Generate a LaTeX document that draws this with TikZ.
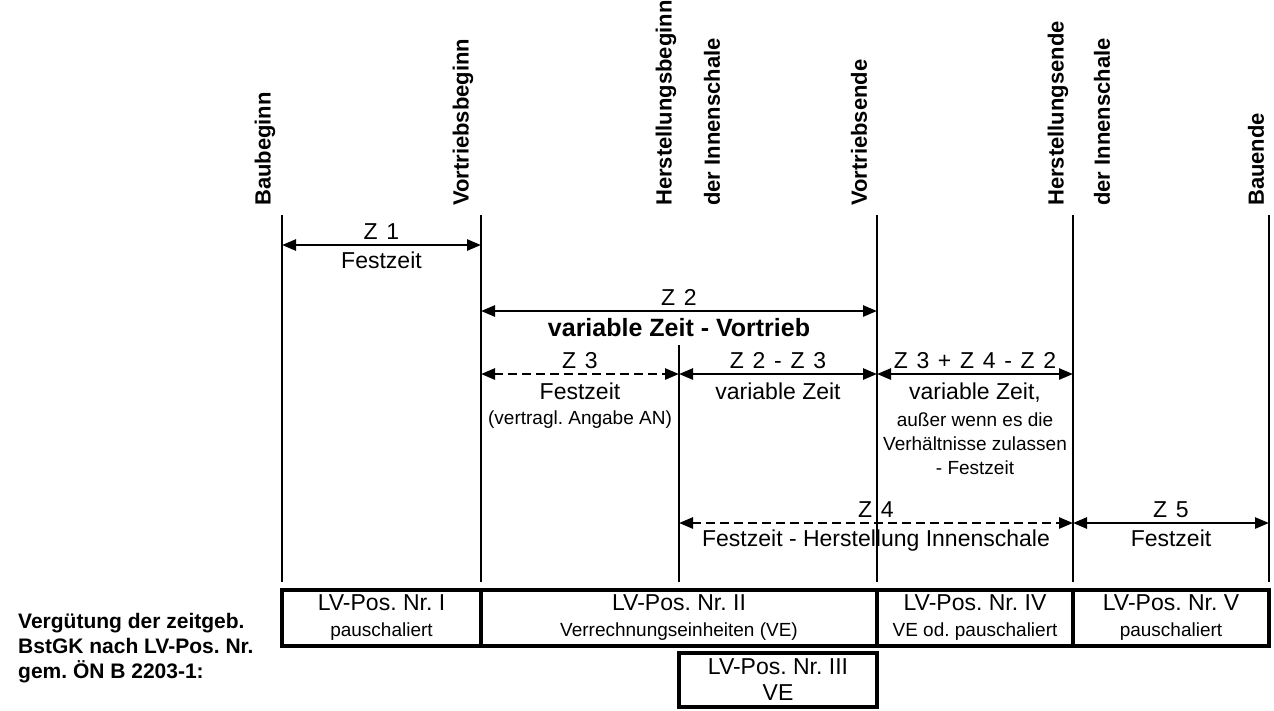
\documentclass[tikz,border=0pt]{standalone}
\usepackage{fontspec}
\setmainfont{Liberation Sans}
\frenchspacing
\usetikzlibrary{positioning,arrows.meta}
\newcommand\smalltxt{\fontsize{19}{23}\selectfont}

\begin{document}
\begin{tikzpicture}[x=1pt,y=-1pt,
  mline/.style={line width=2pt},
  zarrow/.style={{Triangle[length=14pt,width=11pt]}-{Triangle[length=14pt,width=11pt]},line width=2.6pt},
  zdash/.style={zarrow,dash pattern=on 9pt off 5pt},
  mlabel/.style={rotate=90,anchor=west,inner sep=0pt,font=\fontsize{22}{24}\selectfont\bfseries},
  ztop/.style={above=4pt,inner sep=0pt,font=\fontsize{23}{24}\selectfont\addfontfeatures{LetterSpace=10}},
  zbot/.style={below=6pt,inner sep=0pt,align=center,font=\fontsize{23}{24}\selectfont},
  posbox/.style={draw,line width=4pt,inner sep=0pt,align=center,font=\fontsize{23}{26}\selectfont}]
\useasboundingbox (0,0) rectangle (1274,710);

% milestones
\coordinate (bb) at (282,215);
\coordinate (vb) at (481,215);
\coordinate (hb) at (679,345);
\coordinate (ve) at (877,215);
\coordinate (he) at (1073,215);
\coordinate (be) at (1269,215);
\coordinate (r1) at (0,245);
\coordinate (r2) at (0,311);
\coordinate (r3) at (0,374);
\coordinate (r4) at (0,523);
\coordinate (rb) at (0,582);

\foreach \m in {bb,vb,hb,ve,he,be}
  \draw[mline] (\m) -- (\m |- rb);

\node[mlabel] (lbb) at (265,206) {Baubeginn};
\node[mlabel] (lvb) at (463,206) {Vortriebsbeginn};
\node[mlabel] (lhb) at (666,206) {Herstellungsbeginn};
\node[mlabel] (lhb2) at (712,206) {der Innenschale};
\node[mlabel] (lve) at (859,206) {Vortriebsende};
\node[mlabel] (lhe) at (1058,206) {Herstellungsende};
\node[mlabel] (lhe2) at (1102,206) {der Innenschale};
\node[mlabel] (lbe) at (1256,206) {Bauende};

% Zeitabschnitte
\draw[zarrow] (bb |- r1) -- node[ztop] (z1) {Z 1} node[zbot] (z1t) {Festzeit} (vb |- r1);
\draw[zarrow] (vb |- r2) -- node[ztop] (z2) {Z 2}
  node[zbot,font=\fontsize{25}{26}\selectfont\bfseries] (z2t) {variable Zeit - Vortrieb} (ve |- r2);
\draw[zdash] (vb |- r3) -- node[ztop] (z3) {Z 3}
  node[zbot,below=8pt] (z3t) {Festzeit\\[1pt]\smalltxt (vertragl. Angabe AN)} (hb |- r3);
\draw[zarrow] (hb |- r3) -- node[ztop] (z23) {Z 2 - Z 3}
  node[zbot,below=8pt] (z23t) {variable Zeit} (ve |- r3);
\draw[zarrow] (ve |- r3) -- node[ztop] (z342) {Z 3 + Z 4 - Z 2}
  node[zbot,below=8pt] (z342t) {variable Zeit,\\[3pt]\smalltxt au\ss er wenn es die\\
  \smalltxt Verh\"altnisse zulassen\\ \smalltxt - Festzeit} (he |- r3);
\draw[zdash] (hb |- r4) -- node[ztop] (z4) {Z 4}
  node[zbot] (z4t) {Festzeit - Herstellung Innenschale} (he |- r4);
\draw[zarrow] (he |- r4) -- node[ztop] (z5) {Z 5} node[zbot] (z5t) {Festzeit} (be |- r4);

% Verguetung
\node[posbox,minimum width=199pt,minimum height=56pt] (p1) at (381.5,618)
  {LV-Pos. Nr. I\\\smalltxt pauschaliert};
\node[posbox,minimum width=396pt,minimum height=56pt] (p2) at (679,618)
  {LV-Pos. Nr. II\\\smalltxt Verrechnungseinheiten (VE)};
\node[posbox,minimum width=196pt,minimum height=56pt] (p4) at (975,618)
  {LV-Pos. Nr. IV\\\smalltxt VE od. pauschaliert};
\node[posbox,minimum width=196pt,minimum height=56pt] (p5) at (1171,618)
  {LV-Pos. Nr. V\\\smalltxt pauschaliert};
\node[posbox,minimum width=198pt,minimum height=54pt] (p3) at (778,680)
  {LV-Pos. Nr. III\\VE};

\node[anchor=north west,inner sep=0pt,align=left,font=\fontsize{21}{25}\selectfont\bfseries] (verg) at (18,613)
  {Verg\"utung der zeitgeb.\\BstGK nach LV-Pos. Nr.\\gem. \"ON B 2203-1:};
\end{tikzpicture}
\end{document}
